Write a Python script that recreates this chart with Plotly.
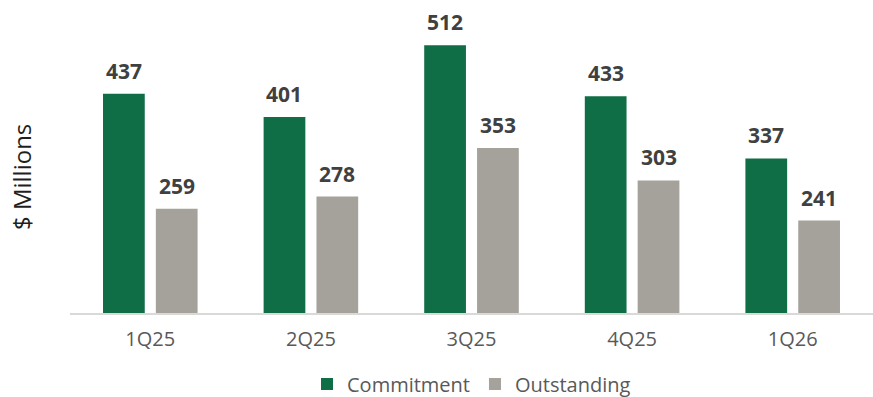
import plotly.graph_objects as go

quarters = ["1Q25", "2Q25", "3Q25", "4Q25", "1Q26"]
commitment = [437, 401, 512, 433, 337]
outstanding = [259, 278, 353, 303, 241]

GREEN = "#0F6E46"
GRAY = "#A5A29C"
FONT = "'Open Sans', sans-serif"

fig = go.Figure()
fig.add_trace(go.Bar(name="Commitment", x=quarters, y=commitment,
                     marker=dict(color=GREEN, line=dict(width=0))))
fig.add_trace(go.Bar(name="Outstanding", x=quarters, y=outstanding,
                     marker=dict(color=GRAY, line=dict(width=0))))

ann = []
for i, q in enumerate(quarters):
    for vals, dx in ((commitment, -26.5), (outstanding, 26.5)):
        ann.append(dict(x=q, y=vals[i], xref="x", yref="y", text=str(vals[i]),
                        showarrow=False, xshift=dx, yshift=7, yanchor="bottom",
                        font=dict(family=FONT, size=21, color="#404040", weight="bold")))

ann.append(dict(text="$ Millions", xref="paper", yref="paper", x=-0.061, y=0.464,
                xanchor="center", yanchor="middle", textangle=-90, showarrow=False,
                font=dict(family=FONT, size=24, color="#1F1F1F")))

fig.update_layout(
    width=873, height=397,
    margin=dict(l=70, r=0, t=20, b=84),
    paper_bgcolor="white", plot_bgcolor="white",
    barmode="group", bargap=0.342, bargroupgap=0.21,
    font=dict(family=FONT, size=20, color="#595959"),
    annotations=ann,
    legend=dict(orientation="h", x=0.5, xanchor="center", xref="paper",
                y=0.033, yanchor="middle", yref="container",
                font=dict(size=20, color="#595959"), itemwidth=30, traceorder="normal"),
    showlegend=True,
)
fig.update_xaxes(showline=True, linecolor="#D9D9D9", linewidth=2, ticks="",
                 ticklabelstandoff=7,
                 tickfont=dict(size=20, color="#595959"), showgrid=False)
fig.update_yaxes(range=[98, 551], showgrid=False, zeroline=False, showticklabels=False,
                 showline=False)

fig.write_html("out.html")
